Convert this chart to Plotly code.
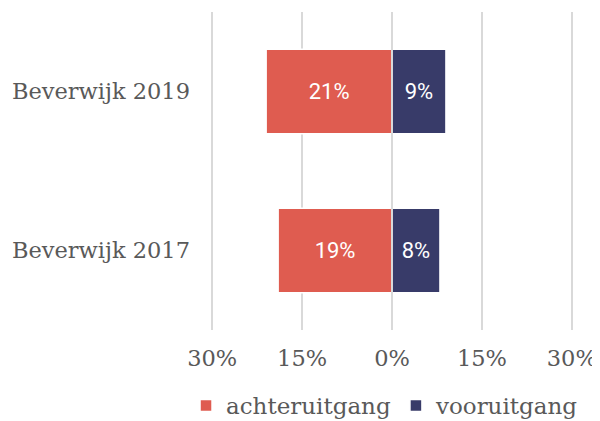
import plotly.graph_objects as go

categories = ["Beverwijk 2017", "Beverwijk 2019"]
achteruitgang = [-19, -21]
vooruitgang = [8, 9]
tick_vals = [-30, -15, 0, 15, 30]
tick_text = ["30%", "15%", "0%", "15%", "30%"]

RED = "#df5c50"
NAVY = "#383b69"
GREY_TXT = "#595959"
SERIF = "DejaVu Serif"

fig = go.Figure()
fig.add_trace(go.Bar(
    y=categories, x=achteruitgang, name="achteruitgang", orientation="h",
    marker=dict(color=RED, line=dict(color="white", width=1.5)),
    text=[f"{abs(v)}%" for v in achteruitgang], textposition="inside",
    insidetextanchor="middle",
    textfont=dict(color="white", size=22, family="Roboto"),
))
fig.add_trace(go.Bar(
    y=categories, x=vooruitgang, name="vooruitgang", orientation="h",
    marker=dict(color=NAVY, line=dict(color="white", width=1.5)),
    text=[f"{v}%" for v in vooruitgang], textposition="inside",
    insidetextanchor="middle",
    textfont=dict(color="white", size=22, family="Roboto"),
))

# zero gridline stays visible in the gap between the bars
fig.add_shape(type="line", xref="x", yref="paper", x0=0, x1=0, y0=0, y1=1,
              line=dict(color="#d9d9d9", width=2), layer="above")

# page body has an 8px margin, so the figure is 8px smaller and margins shifted
fig.update_layout(
    width=592, height=413,
    margin=dict(l=203, r=27, t=4, b=91, autoexpand=False),
    barmode="relative", bargap=0.47,
    plot_bgcolor="white", paper_bgcolor="white",
    font=dict(family=SERIF, color=GREY_TXT, size=22),
    showlegend=True,
    legend=dict(orientation="h", x=-0.069, xanchor="left", y=-0.17, yanchor="top",
                font=dict(size=23, family=SERIF, color=GREY_TXT),
                traceorder="normal"),
    xaxis=dict(range=[-30.2, 30.2], tickvals=tick_vals, ticktext=tick_text,
               showgrid=True, gridcolor="#d9d9d9", gridwidth=2,
               zeroline=False, showline=False, ticks="",
               ticklabeloverflow="allow",
               ticklabelstandoff=12, tickfont=dict(size=22.5)),
    yaxis=dict(range=[-0.5, 1.5], showgrid=False, zeroline=False, showline=False,
               ticks="", ticklabelstandoff=20, tickfont=dict(size=22.5)),
)

fig.write_html("out.html")
